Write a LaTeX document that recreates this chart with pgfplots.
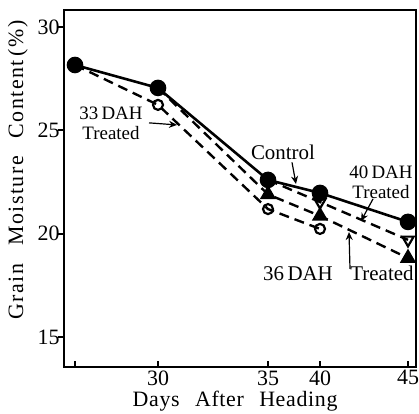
\documentclass[border=0pt]{standalone}
\usepackage{fontspec}
\setmainfont{Liberation Serif}
\usepackage{pgfplots}
\pgfplotsset{compat=1.18}
\usetikzlibrary{arrows.meta}
\begin{document}
\begin{tikzpicture}
\begin{axis}[
  scale only axis, width=352bp, height=357bp,
  xmin=0, xmax=35.2, ymin=13.55, ymax=30.82,
  xtick={1.1,9.4,20.4,25.6,34.4},
  xticklabels={,30,35,40,45},
  ytick={15,20,25,30},
  /pgf/number format/assume math mode=true,
  tick label style={font=\fontsize{22}{24}\selectfont},
  yticklabel style={xshift=5bp},
  axis line style={line width=2.6pt},
  tick style={line width=2pt, black},
  xtick pos=bottom, ytick pos=left,
  xtick align=inside, ytick align=outside,
  major tick length=6bp,
  xlabel={\addfontfeature{LetterSpace=3}Days\hspace{0.7em}After\hspace{0.7em}Heading},
  ylabel={\addfontfeature{LetterSpace=7}Grain\hspace{0.8em}Moisture\hspace{0.8em}Content\,(\%)},
  label style={font=\fontsize{22}{24}\selectfont},
  xlabel style={at={(axis description cs:0.486,-0.095)}, anchor=center},
  ylabel style={at={(axis description cs:-0.131,0.552)}, anchor=center},
  clip=false,
]
% 33 DAH treated
\addplot[black, line width=2.4pt, dash pattern=on 10bp off 6bp, mark=o, mark size=5bp, mark indices={2,3,4}, mark options={solid, fill=white, line width=2.2pt}]
  coordinates {(1.1,28.16)(9.4,26.23)(20.4,21.19)(25.6,20.23)};
% 36 DAH treated
\addplot[black, line width=2.4pt, dash pattern=on 10bp off 6bp, mark=triangle*, mark size=7bp, mark indices={2,3,4}, mark options={solid}]
  coordinates {(9.4,27.05)(20.4,21.9)(25.6,20.86)(34.4,18.82)};
% 40 DAH treated
\addplot[black, line width=2.4pt, dash pattern=on 10bp off 6bp, mark=triangle, mark size=6.5bp, mark indices={2,3}, mark options={solid, rotate=180, fill=white, line width=2.2pt}]
  coordinates {(20.4,22.6)(25.6,21.53)(34.4,19.7)};
% Control
\addplot[black, line width=2.6pt, mark=*, mark size=7bp]
  coordinates {(1.1,28.16)(9.4,27.05)(20.4,22.6)(25.6,21.97)(34.4,20.57)};

\node[font=\fontsize{19}{20}\selectfont, align=center, inner sep=0pt] at (axis cs:4.7,25.36) {33\,DAH\\Treated};
\draw[line width=1.2pt, -{Stealth[length=8bp,width=7bp]}] (axis cs:8.5,25.36) -- (axis cs:11.3,25.26);
\node[font=\fontsize{21}{16}\selectfont, inner sep=0pt] at (axis cs:21.9,23.95) {Control};
\draw[line width=1.2pt, -{Stealth[length=8bp,width=7bp]}] (axis cs:22.8,23.45) -- (axis cs:23.2,22.40);
\node[font=\fontsize{19}{20}\selectfont, align=center, inner sep=0pt] at (axis cs:31.7,22.5) {40\,DAH\\Treated};
\draw[line width=1.2pt, -{Stealth[length=8bp,width=7bp]}] (axis cs:30.9,21.68) -- (axis cs:29.7,20.61);
\node[font=\fontsize{21}{16}\selectfont, inner sep=0pt] at (axis cs:23.4,18.07) {36\,DAH};
\node[font=\fontsize{21}{16}\selectfont, inner sep=0pt] at (axis cs:31.8,18.07) {Treated};
\draw[line width=1.2pt, -{Stealth[length=8bp,width=7bp]}] (axis cs:28.6,18.3) -- (axis cs:28.5,20.08);
\end{axis}
\pgfresetboundingbox
\useasboundingbox ([shift={(-64bp,-47bp)}]current axis.south west) rectangle ([shift={(3bp,10bp)}]current axis.north east);
\end{tikzpicture}
\end{document}
